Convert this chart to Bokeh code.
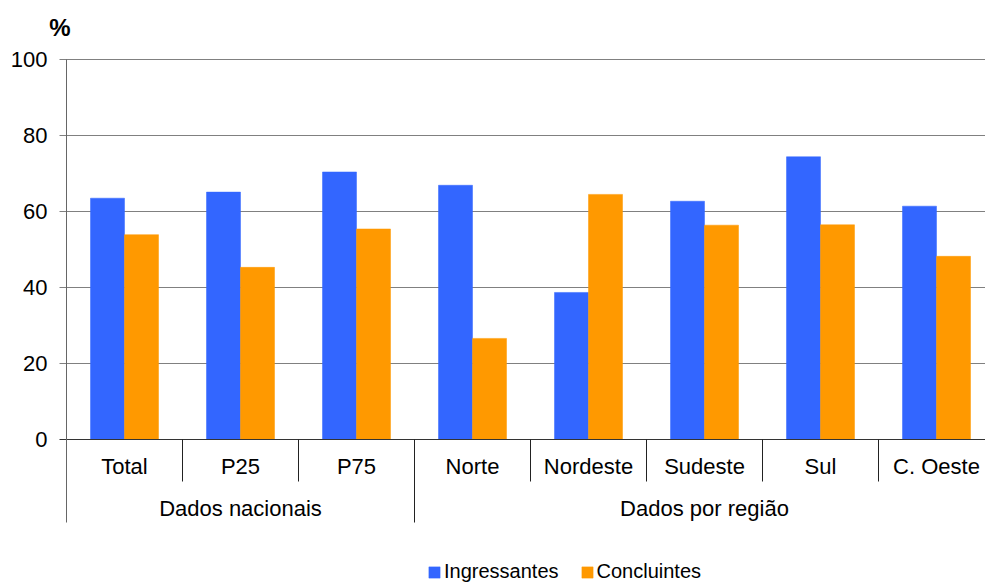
from bokeh.plotting import figure
from bokeh.models import Range1d, Legend, LegendItem, ColumnDataSource
from bokeh.core.properties import value
from bokeh.embed import file_html
from bokeh.resources import INLINE

# ---- data ----
categories = ["Total", "P25", "P75", "Norte", "Nordeste", "Sudeste", "Sul", "C. Oeste"]
groups = ["Dados nacionais", "Dados por região"]
group_sizes = [3, 5]
ingressantes = [63.5, 65.1, 70.4, 66.9, 38.7, 62.7, 74.4, 61.4]
concluintes = [53.9, 45.3, 55.4, 26.6, 64.5, 56.4, 56.5, 48.2]
y_ticks = [0, 20, 40, 60, 80, 100]

# ---- layout constants (page pixels) ----
FONT = "Liberation Sans"
BLUE = "#3366FF"
ORANGE = "#FF9900"
W, H = 985, 582
AX_X = 66           # page x of the value axis
ZERO_Y = 439        # page y of value 0
PX_Y = 3.8          # px per % unit
CAT_PX = 116        # px per category

def dx(px):   # page x -> data x
    return (px - AX_X) / CAT_PX

def dy(py):   # page y -> data y
    return (ZERO_Y - py) / PX_Y

p = figure(width=W, height=H, output_backend="svg", toolbar_location=None,
           x_range=Range1d(dx(0), dx(W)), y_range=Range1d(dy(H), dy(0)),
           min_border_left=0, min_border_top=0,
           min_border_right=0, min_border_bottom=0,
           x_axis_location=None, y_axis_location=None)
p.outline_line_color = None
p.xgrid.visible = False
p.ygrid.visible = False

n = len(categories)
x_right = dx(W)
tick_x0 = dx(59)

# grid lines (with ticks)
grid_ticks = [t for t in y_ticks if t > 0]
p.segment(x0=[tick_x0] * len(grid_ticks), y0=grid_ticks,
          x1=[x_right] * len(grid_ticks), y1=grid_ticks,
          line_color="#808080", line_width=1)

# bars
bw = 34.0 / 116.0
off = bw / 2.0
xs = [i + 0.5 for i in range(n)]
src = ColumnDataSource(dict(
    xb=[x - off for x in xs], xo=[x + off for x in xs],
    ing=ingressantes, con=concluintes))
r1 = p.vbar(x="xb", top="ing", bottom=0, width=bw, source=src,
            fill_color=BLUE, line_color=BLUE, line_width=0.5)
r2 = p.vbar(x="xo", top="con", bottom=0, width=bw, source=src,
            fill_color=ORANGE, line_color=ORANGE, line_width=0.5)

# zero line
p.segment(x0=[tick_x0], y0=[0], x1=[x_right], y1=[0], line_color="#333333", line_width=1)

# tick labels
p.text(x=[dx(47)] * len(y_ticks), y=y_ticks, text=[str(t) for t in y_ticks],
       text_font=value(FONT), text_font_size="22px", text_align="right",
       text_baseline="middle", text_color="#000000")

# category labels
CAT_Y = dy(466)
GRP_Y = dy(508)
SEP_SHORT = dy(481)
SEP_LONG = dy(522)
p.text(x=xs, y=[CAT_Y] * n, text=categories, text_font=value(FONT),
       text_font_size="22px", text_align="center", text_baseline="middle",
       text_color="#000000")

# group labels and separators
gx, gstart = [], []
s = 0
for g in group_sizes:
    gx.append(s + g / 2.0)
    gstart.append(s)
    s += g
p.text(x=gx, y=[GRP_Y] * len(groups), text=groups, text_font=value(FONT),
       text_font_size="22px", text_align="center", text_baseline="middle",
       text_color="#000000")

short_x = [i for i in range(1, n) if i not in gstart]
p.segment(x0=short_x, y0=[0] * len(short_x), x1=short_x, y1=[SEP_SHORT] * len(short_x),
          line_color="#222222", line_width=1)
long_x = [g for g in gstart if g > 0]
p.segment(x0=long_x, y0=[0] * len(long_x), x1=long_x, y1=[SEP_LONG] * len(long_x),
          line_color="#222222", line_width=1)
# left axis line
p.segment(x0=[0], y0=[SEP_LONG], x1=[0], y1=[100], line_color="#666666", line_width=1)

# % label
p.text(x=[dx(59.5)], y=[dy(27)], text=["%"], text_font=value(FONT),
       text_font_size="24px", text_font_style="bold", text_align="center",
       text_baseline="middle", text_color="#000000")

legend = Legend(items=[LegendItem(label="Ingressantes", renderers=[r1]),
                       LegendItem(label="Concluintes", renderers=[r2])],
                orientation="horizontal", location=(427, -1),
                border_line_color=None, background_fill_alpha=0,
                padding=0, margin=0, spacing=21, label_standoff=3,
                glyph_width=14, glyph_height=14,
                label_text_font=FONT, label_text_font_size="20px",
                label_text_color="#000000", label_height=20)
p.add_layout(legend)

open("out.html", "w").write(file_html(p, INLINE))
